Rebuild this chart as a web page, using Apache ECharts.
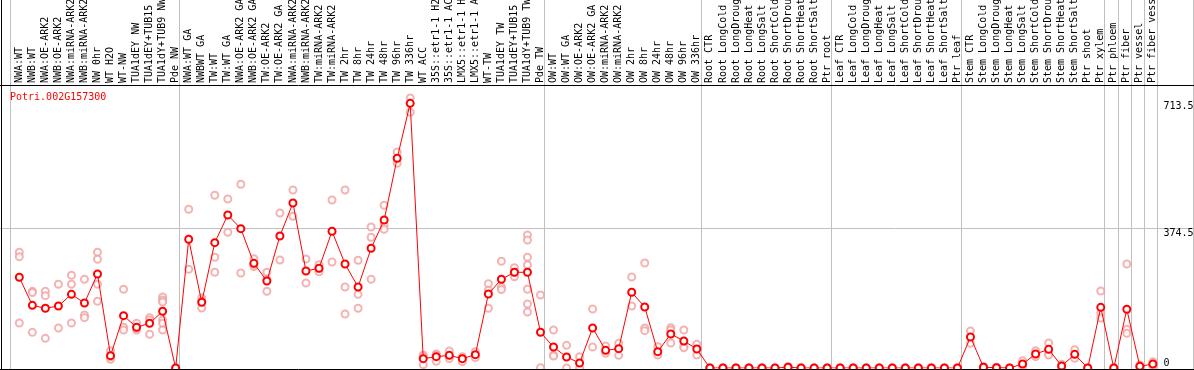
<!DOCTYPE html>
<html>
<head>
<meta charset="utf-8">
<script src="https://cdn.jsdelivr.net/npm/echarts@6/dist/echarts.min.js"></script>
<style>
html,body{margin:0;padding:0;background:#fff;}
#chart{width:1194px;height:370px;}
</style>
</head>
<body>
<div id="chart"></div>
<script>
const seriesName = 'Potri.002G157300';

const categories = [
  'NWA:WT','NWB:WT','NWA:OE-ARK2','NWB:OE-ARK2','NWA:miRNA-ARK2','NWB:miRNA-ARK2','NW 0hr','WT H2O','WT-NW',
  'TUA1dEY NW','TUA1dEY+TUB15 NW','TUA1dY+TUB9 NW','Pde NW',
  'NWA:WT GA','NWBWT GA','TW:WT','TW:WT GA','NWA:OE-ARK2 GA','NWB:OE-ARK2 GA','TW:OE-ARK2','TW:OE-ARK2 GA',
  'NWA:miRNA-ARK2 GA','NWB:miRNA-ARK2 GA','TW:miRNA-ARK2','TW:miRNA-ARK2 GA',
  'TW 2hr','TW 8hr','TW 24hr','TW 48hr','TW 96hr','TW 336hr','WT ACC',
  '35S::etr1-1 H2O','35S::etr1-1 ACC','LMX5::etr1-1 H2O','LMX5::etr1-1 ACC',
  'WT-TW','TUA1dEY TW','TUA1dEY+TUB15 TW','TUA1dY+TUB9 TW','Pde TW',
  'OW:WT','OW:WT GA','OW:OE-ARK2','OW:OE-ARK2 GA','OW:miRNA-ARK2','OW:miRNA-ARK2 GA',
  'OW 2hr','OW 8hr','OW 24hr','OW 48hr','OW 96hr','OW 336hr',
  'Root CTR','Root LongCold','Root LongDrought','Root LongHeat','Root LongSalt',
  'Root ShortCold','Root ShortDrought','Root ShortHeat','Root ShortSalt','Ptr root',
  'Leaf CTR','Leaf LongCold','Leaf LongDrought','Leaf LongHeat','Leaf LongSalt',
  'Leaf ShortCold','Leaf ShortDrought','Leaf ShortHeat','Leaf ShortSalt','Ptr leaf',
  'Stem CTR','Stem LongCold','Stem LongDrought','Stem LongHeat','Stem LongSalt',
  'Stem ShortCold','Stem ShortDrought','Stem ShortHeat','Stem ShortSalt','Ptr shoot',
  'Ptr xylem','Ptr phloem','Ptr fiber','Ptr vessel','Ptr fiber vessel'
];

const means = [
  242.6,167.6,159.7,165.9,197.1,173.9,251.5,33,140,108.9,119.6,151.7,0,
  344.3,175.8,335.3,409.3,372.7,280,232.7,353.1,441.4,259.5,266.7,365.7,
  278.2,216.7,320.2,395.9,561,708,25,30.3,33.9,25,35.7,198,237.3,256,256,95.5,
  56.2,29.4,13.4,107,47.3,51.7,202.5,163.2,43.7,91,72.2,50.8,
  0,0,0,0,0,0,2,0,0,0,
  0,0,0,0,0,0,0,0,0,0,
  82.9,2,1,0,10.7,37.5,49.9,5.3,36.6,0,162.3,
  0,157,4.5,10.7
];

const replicates = [
  [309.5,297.8,120.4],[205,202,95.4],[205,193.5,79.4],[223.9,107],[248,223.9,120.4],
  [237.3,141.8,134.6],[309.5,290.8,223.9,178.4],[46.3,23.2,30],[210.5,108.9,101.7],
  [119.6,101.7,106],[134.6,128.4,90.2],[190,181.9,176.6,128.4,119.6,101.7],[0,0],
  [424.6,264],[187.3,160.5,180],[462,296.1,256],[452.1,363],[491.4,254.1],[292.4,271,277],
  [256,205,237],[414.7,288.9],[476.2,405.8],[291.6,227.4],[276.4,257.6,266],[449.4,283.6],
  [476.2,216.7,144.5],[288.1,197.1,159.7],[377.2,349.7,237.3],[435.3,382.6,371],[577.8,547.6],
  [722.3,684],[34.8,31,8.9],[37.5,35,17.8],[45.5,30.3,25],[30.3,17,27],[43.7,27.6],
  [225.6,208,159.7],[285.4,216.7,210],[268.3,244.2,256],[355.8,342.4,296.1,275.5,210.5,171.2,149.8],
  [195.3,0.8],
  [101.7,35,32],[60.7,0],[30.3,0],[157.8,56.2],[58.9,39.3],[66,33.9],[243.4,165.9],
  [280.9,107,99.8],[57,34.8],[107.9,101.7,66.9],[101.7,58.9,54.3],[63.3,34.8],
  [0,0,0],[0,0,0],[0,0,0],[0,0,0],[0,0,0],[0,0,0],[4,1,0],[0,0,0],[0,0,0],[0,0,0],
  [0,0,0],[0,0,0],[0,0,0],[0,0,0],[0,0,0],[0,0,0],[0,0,0],[0,0,0],[0,0,0],[0,0,0],
  [99,66],[4,1,0],[2,1,0],[0,0],[19.6,8,4],[46.3,30.3],[66.9,39.3,34.8],[10,4,2],[49,25.9],
  [0,0],[206,148,133.8],[0,0],[278.2,103.5,92.8],[8,4,2],[17,10,5]
];

// category index boundaries where the grey group separators are drawn
const groupBreaks = [0, 13, 41, 53, 63, 73, 84, 85, 86, 87, 88];
const yTickLabels = [374.5, 713.5];
const yZeroLabel = [0];
const gridValue = 374.5;

const repData = [];
replicates.forEach((arr, i) => arr.forEach(v => repData.push([i, v])));

const mono = 'DejaVu Sans Mono';
const chart = echarts.init(document.getElementById('chart'), null, {renderer: 'canvas'});

chart.setOption({
  animation: false,
  backgroundColor: '#ffffff',
  grid: {left: 12.8, right: 34.6, top: 85, bottom: 2, containLabel: false, outerBoundsMode: 'none'},
  xAxis: [{
    type: 'category', position: 'top', data: categories, boundaryGap: true,
    axisLine: {show: false}, axisTick: {show: false}, splitLine: {show: false},
    axisLabel: {interval: 0, rotate: 90, margin: 2, fontFamily: mono, fontSize: 10, color: '#000', hideOverlap: false}
  }, {
    type: 'value', min: 0, max: categories.length, show: false
  }],
  yAxis: [{
    type: 'value', position: 'right', min: 0, max: 757,
    axisLine: {show: false}, axisTick: {show: false}, splitLine: {show: false},
    axisLabel: {customValues: yTickLabels, verticalAlign: 'top', margin: 4, fontFamily: mono, fontSize: 10, color: '#000',
      formatter: v => String(v)}
  }, {
    type: 'value', position: 'right', min: 0, max: 757,
    axisLine: {show: false}, axisTick: {show: false}, splitLine: {show: false},
    axisLabel: {customValues: yZeroLabel, verticalAlign: 'bottom', margin: 4, fontFamily: mono, fontSize: 10, color: '#000',
      formatter: v => String(v)}
  }],
  series: [{
    type: 'scatter', name: 'replicates', xAxisIndex: 0, yAxisIndex: 0,
    data: repData, symbol: 'emptyCircle', symbolSize: 7, z: 2,
    itemStyle: {color: '#f0a0a0', borderColor: '#ee9898', borderWidth: 1.3}
  }, {
    type: 'line', name: seriesName, xAxisIndex: 0, yAxisIndex: 0,
    data: means, symbol: 'emptyCircle', symbolSize: 7, z: 3,
    lineStyle: {color: '#ff0000', width: 1},
    itemStyle: {color: '#ff0000', borderColor: '#ff0000', borderWidth: 1.8}
  }]
});

// decorations derived from the axes
const gfx = [];
const catW = chart.convertToPixel({xAxisIndex: 1}, 1) - chart.convertToPixel({xAxisIndex: 1}, 0);
groupBreaks.forEach(b => {
  const x = Math.round(chart.convertToPixel({xAxisIndex: 1}, b) - 0.215 * catW) + 0.5;
  gfx.push({type: 'line', z: 0, shape: {x1: x, y1: 0, x2: x, y2: 370}, style: {stroke: '#c0c0c0', lineWidth: 1}});
});
const gy = Math.round(chart.convertToPixel({yAxisIndex: 0}, gridValue)) + 0.5;
gfx.push({type: 'line', z: 0, shape: {x1: 0, y1: gy, x2: 1194, y2: gy}, style: {stroke: '#c0c0c0', lineWidth: 1}});
gfx.push({type: 'line', z: 0, shape: {x1: 1193.5, y1: 0, x2: 1193.5, y2: 370}, style: {stroke: '#c0c0c0', lineWidth: 1}});
// frame
gfx.push({type: 'line', z: 5, shape: {x1: 1.5, y1: 0, x2: 1.5, y2: 370}, style: {stroke: '#000', lineWidth: 1}});
gfx.push({type: 'line', z: 5, shape: {x1: 0, y1: 85.5, x2: 1194, y2: 85.5}, style: {stroke: '#000', lineWidth: 1}});
gfx.push({type: 'line', z: 5, shape: {x1: 0, y1: 369.5, x2: 1194, y2: 369.5}, style: {stroke: '#000', lineWidth: 1}});
gfx.push({type: 'text', z: 5, x: 10, y: 92, style: {text: seriesName, fill: '#ff0000', font: '10px ' + mono, textVerticalAlign: 'top'}});
chart.setOption({graphic: gfx});
</script>
</body>
</html>
